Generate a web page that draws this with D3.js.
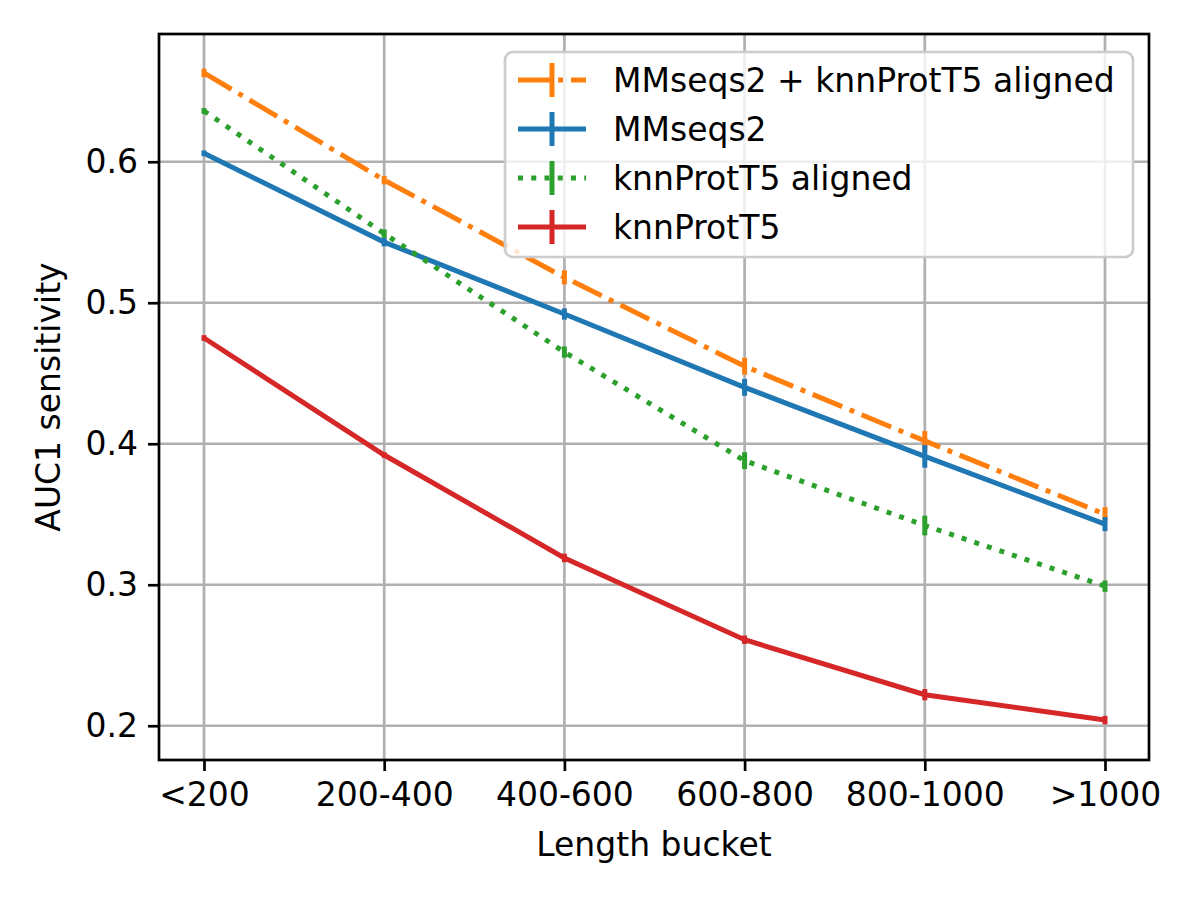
<!DOCTYPE html>
<html>
<head>
<meta charset="utf-8">
<script src="https://cdn.jsdelivr.net/npm/d3@7"></script>
<style>
  body { margin: 0; background: #fff; }
  text { font-family: "DejaVu Sans", sans-serif; fill: #000; }
</style>
</head>
<body>
<svg id="chart" width="1200" height="900"></svg>
<script>
// length buckets on the x axis
const buckets = ["<200", "200-400", "400-600", "600-800", "800-1000", ">1000"];

// AUC1 sensitivity per bucket
const combined = [0.663, 0.587, 0.518, 0.455, 0.402, 0.350];
const combinedErr = [0.003, 0.003, 0.005, 0.006, 0.007, 0.005];
const mmseqs = [0.606, 0.543, 0.492, 0.440, 0.391, 0.343];
const mmseqsErr = [0.002, 0.003, 0.004, 0.006, 0.008, 0.005];
const knnAligned = [0.636, 0.549, 0.465, 0.388, 0.342, 0.299];
const knnAlignedErr = [0.002, 0.003, 0.004, 0.006, 0.007, 0.004];
const knn = [0.475, 0.392, 0.319, 0.261, 0.222, 0.204];
const knnErr = [0.002, 0.002, 0.003, 0.003, 0.004, 0.003];

const yTicks = [0.2, 0.3, 0.4, 0.5, 0.6];

const series = [
  { name: "MMseqs2 + knnProtT5 aligned", values: combined, err: combinedErr, color: "#ff7f0e", dash: "32,8,5,8" },
  { name: "MMseqs2", values: mmseqs, err: mmseqsErr, color: "#1f77b4", dash: null },
  { name: "knnProtT5 aligned", values: knnAligned, err: knnAlignedErr, color: "#2ca02c", dash: "5,8.25" },
  { name: "knnProtT5", values: knn, err: knnErr, color: "#d62728", dash: null }
];

const margin = { top: 34, right: 51, bottom: 140, left: 159 };
const width = 1200 - margin.left - margin.right;
const height = 900 - margin.top - margin.bottom;
const lw = 5;
const fs = 33;

const svg = d3.select("#chart");
const g = svg.append("g").attr("transform", `translate(${margin.left},${margin.top})`);

const x = d3.scalePoint().domain(buckets).range([45, width - 44]);
const y = d3.scaleLinear().domain([0.1757, 0.6906]).range([height, 0]);

// grid
g.append("g")
  .selectAll("line.vg")
  .data(buckets)
  .join("line")
  .attr("x1", d => x(d)).attr("x2", d => x(d))
  .attr("y1", 0).attr("y2", height)
  .attr("stroke", "#b0b0b0").attr("stroke-width", 2.7);

g.append("g")
  .selectAll("line.hg")
  .data(yTicks)
  .join("line")
  .attr("x1", 0).attr("x2", width)
  .attr("y1", d => y(d)).attr("y2", d => y(d))
  .attr("stroke", "#b0b0b0").attr("stroke-width", 2.7);

// series lines + error bars
const line = d3.line().x((d, i) => x(buckets[i])).y(d => y(d));

series.forEach(s => {
  const sg = g.append("g");
  sg.append("path")
    .datum(s.values)
    .attr("d", line)
    .attr("fill", "none")
    .attr("stroke", s.color)
    .attr("stroke-width", lw)
    .attr("stroke-dasharray", s.dash);

  sg.selectAll("line")
    .data(s.values)
    .join("line")
    .attr("x1", (d, i) => x(buckets[i]))
    .attr("x2", (d, i) => x(buckets[i]))
    .attr("y1", (d, i) => y(d - s.err[i]))
    .attr("y2", (d, i) => y(d + s.err[i]))
    .attr("stroke", s.color)
    .attr("stroke-width", lw);
});

// axes
const xAxis = g.append("g")
  .attr("transform", `translate(0,${height})`)
  .call(d3.axisBottom(x).tickSize(11).tickPadding(12));

const yAxis = g.append("g")
  .call(d3.axisLeft(y).tickValues(yTicks).tickFormat(d3.format(".1f")).tickSize(11).tickPadding(10));

[xAxis, yAxis].forEach(ax => {
  ax.select(".domain").remove();
  ax.selectAll(".tick line").attr("stroke", "#000").attr("stroke-width", 2.7);
  ax.selectAll(".tick text").attr("font-size", fs).attr("font-family", "DejaVu Sans");
});

// frame
g.append("rect")
  .attr("width", width).attr("height", height)
  .attr("fill", "none").attr("stroke", "#000").attr("stroke-width", 2.7);

// axis labels
svg.append("text")
  .attr("x", margin.left + width / 2)
  .attr("y", 856)
  .attr("text-anchor", "middle")
  .attr("font-size", fs)
  .text("Length bucket");

svg.append("text")
  .attr("transform", `translate(60,${margin.top + height / 2}) rotate(-90)`)
  .attr("text-anchor", "middle")
  .attr("font-size", fs)
  .text("AUC1 sensitivity");

// legend
const legend = svg.append("g").attr("transform", "translate(505,52)");
legend.append("rect")
  .attr("width", 628).attr("height", 205)
  .attr("rx", 8)
  .attr("fill", "#fff").attr("fill-opacity", 0.8)
  .attr("stroke", "#cccccc").attr("stroke-width", 2.7);

series.forEach((s, i) => {
  const row = legend.append("g").attr("transform", `translate(0,${28 + i * 49})`);
  row.append("line")
    .attr("x1", 13).attr("x2", 81)
    .attr("stroke", s.color).attr("stroke-width", lw)
    .attr("stroke-dasharray", s.dash);
  row.append("line")
    .attr("x1", 47).attr("x2", 47)
    .attr("y1", -17).attr("y2", 17)
    .attr("stroke", s.color).attr("stroke-width", lw);
  row.append("text")
    .attr("x", 108).attr("y", 12)
    .attr("font-size", fs)
    .text(s.name);
});
</script>
</body>
</html>
